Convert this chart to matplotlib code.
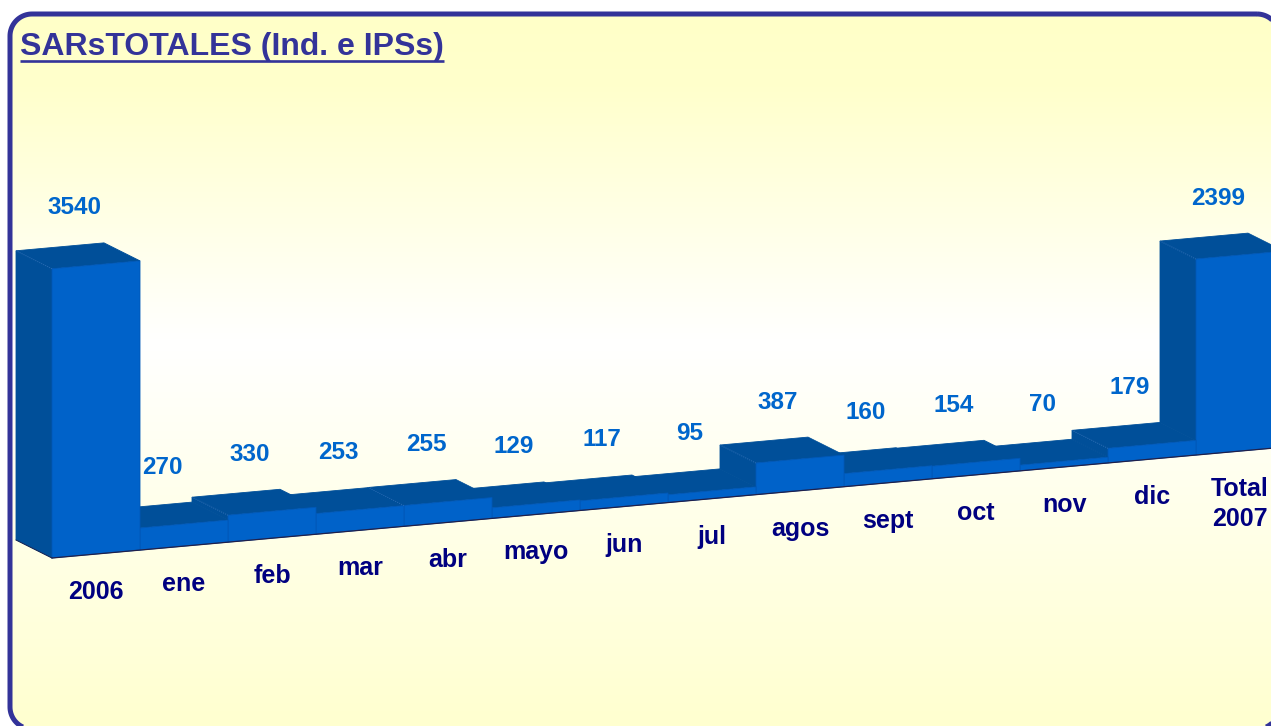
import matplotlib
matplotlib.use("Agg")
import matplotlib.pyplot as plt
from matplotlib.transforms import Affine2D
from matplotlib.patches import Polygon, PathPatch
from matplotlib.path import Path
from matplotlib.colors import LinearSegmentedColormap
import numpy as np

# ---- data ----
categories = ['2006', 'ene', 'feb', 'mar', 'abr', 'mayo', 'jun', 'jul',
              'agos', 'sept', 'oct', 'nov', 'dic', 'Total\n2007']
values = [3540, 270, 330, 253, 255, 129, 117, 95, 387, 160, 154, 70, 179, 2399]
title = 'SARsTOTALES (Ind. e IPSs)'

# ---- style ----
FONT = ['Liberation Sans', 'DejaVu Sans']
FRONT = '#0062C9'
DARK = '#004F99'
VAL_COLOR = '#0066CC'
CAT_COLOR = '#000080'
TITLE_COLOR = '#333399'

W, H = 1271, 726
fig = plt.figure(figsize=(W / 100, H / 100), dpi=100)

# ---- chart axes (pixel coordinates, y downward) ----
ax = fig.add_axes([0, 0, 1, 1])
ax.axis('off')


def rounded_rect(x0, y0, x1, y1, r, npts=24):
    pts = []
    for cx, cy, a0 in [(x1 - r, y0 + r, -90), (x1 - r, y1 - r, 0),
                       (x0 + r, y1 - r, 90), (x0 + r, y0 + r, 180)]:
        a = np.deg2rad(np.linspace(a0, a0 + 90, npts))
        pts.extend(zip(cx + r * np.cos(a), cy + r * np.sin(a)))
    pts.append(pts[0])
    return Path(np.array(pts), closed=True)


# background frame: gradient fill clipped to rounded rectangle
fl, ft, fr_, fb, rad = 10, 14, 1279, 729, 22
frame_path = rounded_rect(fl, ft, fr_, fb, rad)
cmap = LinearSegmentedColormap.from_list(
    'bg', [(0.0, '#FFFFC8'), (0.1, '#FFFFCC'), (0.46, '#FFFFFF'), (1.0, '#FFFFCF')])
grad = np.linspace(0, 1, 500).reshape(-1, 1)
im = ax.imshow(grad, cmap=cmap, extent=(fl, fr_, fb, ft), origin='upper',
               aspect='auto', interpolation='bilinear', zorder=0)
clip = PathPatch(frame_path, transform=ax.transData, fc='none', ec='none')
ax.add_patch(clip)
im.set_clip_path(clip)
ax.add_patch(PathPatch(frame_path, fc='none', ec='#333399', lw=3.6, zorder=10))
ax.set_xlim(0, W)
ax.set_ylim(H, 0)

# oblique projection: (category position, value) -> pixel
X0, Y0, STEP, SLOPE, K = 52, 558, 88, 0.090, 0.0817
front = Affine2D(np.array([[STEP, 0, X0], [-SLOPE * STEP, -K, Y0], [0, 0, 1]]))
back = front + Affine2D().translate(-36, -18)
front_tr = front + ax.transData


def P(u, v, d):
    return (back if d else front).transform((u, v))


n = len(values)
for i in reversed(range(n)):
    v = values[i]
    top = [P(i, v, 0), P(i + 1, v, 0), P(i + 1, v, 1), P(i, v, 1)]
    ax.add_patch(Polygon(top, closed=True, fc=DARK, ec=DARK, lw=0.6, zorder=2))
    lo = 0 if i == 0 else values[i - 1]
    if v > lo:
        left = [P(i, lo, 0), P(i, v, 0), P(i, v, 1), P(i, lo, 1)]
        ax.add_patch(Polygon(left, closed=True, fc=DARK, ec=DARK, lw=0.6, zorder=2))
        ax.plot([P(i, v, 0)[0], P(i, v, 1)[0]], [P(i, v, 0)[1], P(i, v, 1)[1]],
                color='#3C78C0', lw=0.6, ls=':', zorder=2.5)
    fr_face = [P(i, 0, 0), P(i + 1, 0, 0), P(i + 1, v, 0), P(i, v, 0)]
    ax.add_patch(Polygon(fr_face, closed=True, fc=FRONT, ec='#0058B8', lw=0.6, zorder=2))

# baseline edge
b0, b1 = P(0, 0, 0), P(n, 0, 0)
ax.plot([b0[0], b1[0]], [b0[1], b1[1]], color='#20204A', lw=0.9, zorder=3)
bb0 = P(0, 0, 1)
ax.plot([bb0[0], b0[0]], [bb0[1], b0[1]], color='#20204A', lw=0.6, zorder=3)

# value labels
for i, v in enumerate(values):
    ax.annotate(f'{v}', xy=(i + 0.5, v), xycoords=front_tr, xytext=(-22, 57),
                textcoords='offset pixels', ha='center', va='center',
                fontsize=17.5, fontweight='bold', color=VAL_COLOR, family=FONT, zorder=5)

# category labels
for i, c in enumerate(categories):
    ax.annotate(c, xy=(i + 0.5, 0), xycoords=front_tr, xytext=(0, -26),
                textcoords='offset pixels', ha='center', va='top', linespacing=1.3,
                fontsize=18, fontweight='bold', color=CAT_COLOR, family=FONT, zorder=5)

# title with underline
t = ax.text(20, 55, title, fontsize=23, fontweight='bold', color=TITLE_COLOR,
            family=FONT, ha='left', va='baseline', zorder=11)
fig.canvas.draw()
bb = t.get_window_extent(fig.canvas.get_renderer())
inv = ax.transData.inverted()
(ux0, _), (ux1, _) = inv.transform([(bb.x0, 0), (bb.x1, 0)])
ax.plot([ux0, ux1], [61, 61], color=TITLE_COLOR, lw=1.9, solid_capstyle='butt', zorder=11)

fig.savefig('out.png', dpi=100)
